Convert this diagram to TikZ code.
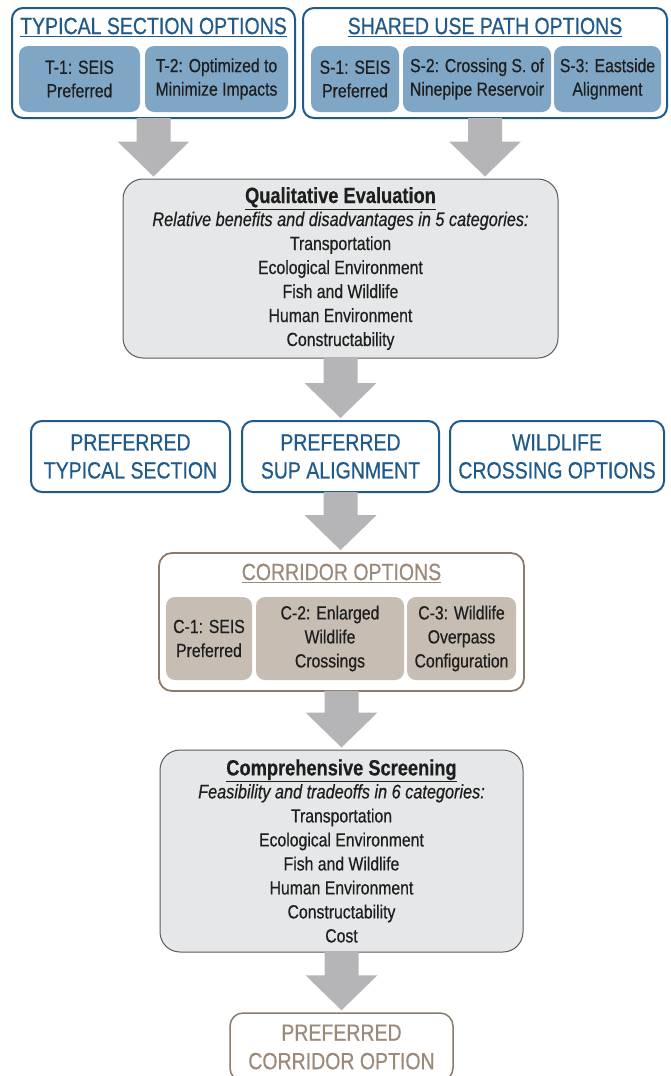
\documentclass[tikz,border=0pt]{standalone}
\usepackage{fontspec}
\setmainfont[FakeStretch=0.83,FakeBold=0.5]{Liberation Sans}
\usetikzlibrary{calc}
\definecolor{tblue}{HTML}{1F5A8A}
\definecolor{subblue}{HTML}{7FA7C5}
\definecolor{agray}{HTML}{B5B5B7}
\definecolor{boxgray}{HTML}{E6E7E8}
\definecolor{edgegray}{HTML}{5A5A5A}
\definecolor{brownedge}{HTML}{8C7B6A}
\definecolor{browntext}{HTML}{9B8A79}
\definecolor{brownfill}{HTML}{C7BDB3}
\definecolor{txt}{HTML}{1E1E1E}
\newcommand\blockarrow[2]{%
  \fill[agray] let \p1=($(#1.south)+(0,-1)$), \p2=($(#1.south |- #2.north)+(0,-2)$) in
    (\x1-17pt,\y1) -- (\x1+17pt,\y1) -- (\x1+17pt,\y2+35pt) -- (\x1+36pt,\y2+35pt)
    -- (\x1,\y2) -- (\x1-36pt,\y2+35pt) -- (\x1-17pt,\y2+35pt) -- cycle;}
\begin{document}
\begin{tikzpicture}[x=1pt,y=-1pt,
  groupblue/.style={draw=tblue, line width=2pt, fill=white, rounded corners=11pt, inner sep=0pt},
  groupbrown/.style={draw=brownedge, line width=1.8pt, fill=white, rounded corners=13pt, inner sep=0pt},
  subb/.style={fill=subblue, rounded corners=9pt, text=txt, align=center, inner sep=0pt,
    font=\fontsize{19}{23.5}\selectfont},
  subbr/.style={fill=brownfill, rounded corners=9pt, text=txt, align=center, inner sep=0pt,
    font=\fontsize{19}{24}\selectfont},
  titleb/.style={text=tblue, inner sep=0pt, font=\fontsize{23.5}{28}\selectfont},
  titlebr/.style={text=browntext, inner sep=0pt, font=\fontsize{23.5}{28}\selectfont},
  graybox/.style={fill=boxgray, draw=edgegray, line width=1pt, rounded corners=20pt, align=center,
    inner sep=0pt, text=txt, font=\fontsize{19}{24}\selectfont},
  outb/.style={draw=tblue, line width=2pt, fill=white, rounded corners=11pt, inner sep=0pt,
    text=tblue, align=center, font=\fontsize{23.5}{28}\selectfont},
  outbr/.style={draw=brownedge, line width=1.5pt, fill=white, rounded corners=13pt, inner sep=0pt,
    text=browntext, align=center, font=\fontsize{23.5}{28.5}\selectfont}
]
\useasboundingbox (0,0) rectangle (670,1076);
\clip (0,0) rectangle (670,1076);
% top-left group
\node[groupblue, minimum width=283pt, minimum height=110pt] (tl) at (153.5,63) {};
\node[titleb] (tlt) at (153.5,27) {\underline{TYPICAL SECTION OPTIONS}};
\node[subb, minimum width=121pt, minimum height=66pt] (t1) at (79.5,79) {T-1: SEIS\\Preferred};
\node[subb, minimum width=143pt, minimum height=66pt] (t2) at (216.5,79) {T-2: Optimized to\\Minimize Impacts};
% top-right group
\node[groupblue, minimum width=364pt, minimum height=110pt] (tr) at (485,63) {};
\node[titleb] (trt) at (485,27) {\underline{SHARED USE PATH OPTIONS}};
\node[subb, minimum width=88pt, minimum height=66pt] (s1) at (355,79) {S-1: SEIS\\Preferred};
\node[subb, minimum width=148pt, minimum height=66pt] (s2) at (477,79) {S-2: Crossing S. of\\Ninepipe Reservoir};
\node[subb, minimum width=107pt, minimum height=66pt] (s3) at (607.5,79) {S-3: Eastside\\Alignment};
% qualitative evaluation
\node[graybox, minimum width=435pt, minimum height=179pt] (qe) at (340.5,268.5)
  {{\fontsize{22}{26}\selectfont\bfseries\underline{Qualitative Evaluation}}\\[-1pt]
   {\fontsize{19.6}{24}\selectfont\itshape Relative benefits and disadvantages in 5 categories:}\\
   Transportation\\Ecological Environment\\Fish and Wildlife\\Human Environment\\Constructability};
% three outcome boxes
\node[outb, minimum width=199pt, minimum height=71pt] (b1) at (130.5,456.5) {PREFERRED\\TYPICAL SECTION};
\node[outb, minimum width=197pt, minimum height=71pt] (b2) at (340.5,456.5) {PREFERRED\\SUP ALIGNMENT};
\node[outb, minimum width=214pt, minimum height=71pt] (b3) at (557,456.5) {WILDLIFE\\CROSSING OPTIONS};
% corridor options
\node[groupbrown, minimum width=365pt, minimum height=138pt] (cor) at (341.5,622) {};
\node[titlebr] (cort) at (341.5,573) {\underline{CORRIDOR OPTIONS}};
\node[subbr, minimum width=86pt, minimum height=83pt] (c1) at (209,638.5) {C-1: SEIS\\Preferred};
\node[subbr, minimum width=148pt, minimum height=83pt] (c2) at (330,638.5) {C-2: Enlarged\\Wildlife\\Crossings};
\node[subbr, minimum width=109pt, minimum height=83pt] (c3) at (461.5,638.5) {C-3: Wildlife\\Overpass\\Configuration};
% comprehensive screening
\node[graybox, minimum width=363pt, minimum height=202pt] (cs) at (341.5,851)
  {{\fontsize{22}{26}\selectfont\bfseries\underline{Comprehensive Screening}}\\[-1pt]
   {\fontsize{19.6}{24}\selectfont\itshape Feasibility and tradeoffs in 6 categories:}\\
   Transportation\\Ecological Environment\\Fish and Wildlife\\Human Environment\\Constructability\\Cost};
% final
\node[outbr, minimum width=223pt, minimum height=68pt] (fin) at (341.5,1047) {PREFERRED\\CORRIDOR OPTION};
% arrows
\blockarrow{tl}{qe}
\blockarrow{tr}{qe}
\blockarrow{qe}{b2}
\blockarrow{b2}{cor}
\blockarrow{cor}{cs}
\blockarrow{cs}{fin}
\end{tikzpicture}
\end{document}
